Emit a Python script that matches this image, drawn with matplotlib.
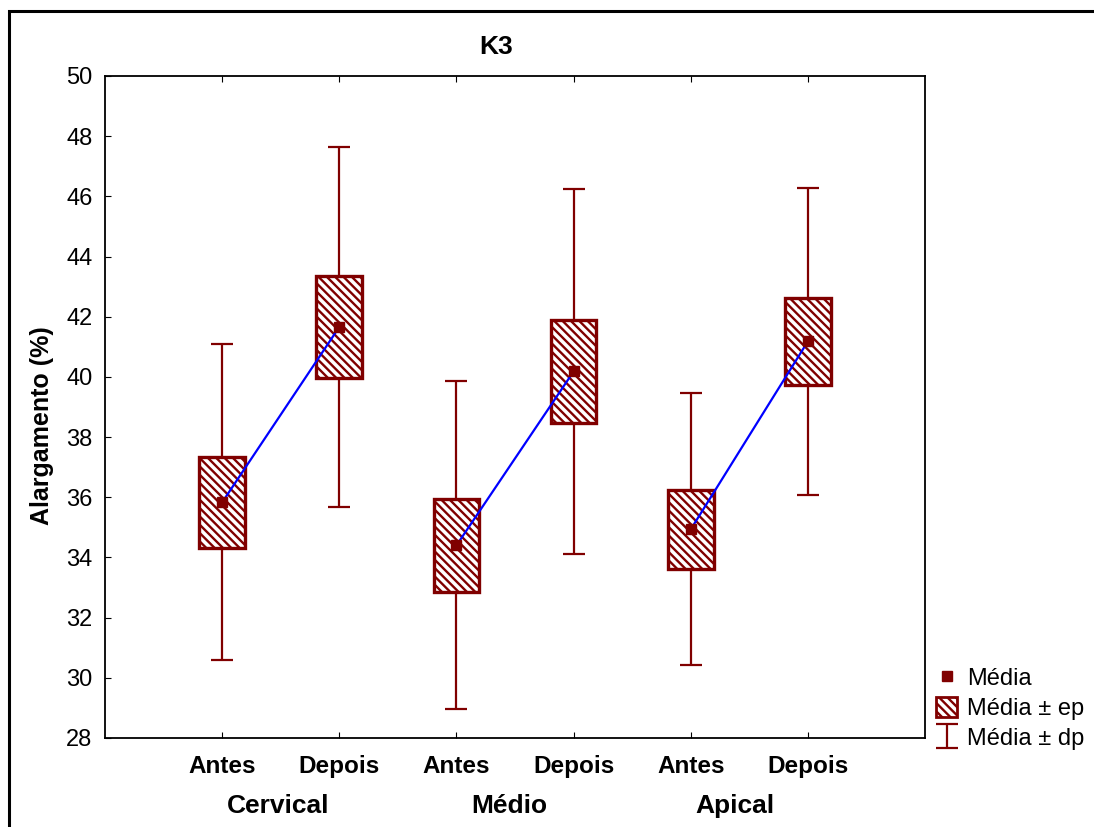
import matplotlib.pyplot as plt
from matplotlib.patches import Rectangle, Patch
from matplotlib.lines import Line2D

plt.rcParams['font.family'] = ['Liberation Sans', 'DejaVu Sans']
plt.rcParams['hatch.linewidth'] = 1.7

grupos = ['Cervical', 'Médio', 'Apical']
momentos = ['Antes', 'Depois', 'Antes', 'Depois', 'Antes', 'Depois']
media = [35.83, 41.66, 34.40, 40.18, 34.93, 41.18]
ep = [1.51, 1.70, 1.55, 1.72, 1.30, 1.45]
dp = [5.25, 5.97, 5.45, 6.05, 4.52, 5.10]

cor = '#800000'
x = list(range(1, len(media) + 1))

fig = plt.figure(figsize=(10.94, 8.27), dpi=100)
ax = fig.add_axes([105/1094, 1-738/827, 820/1094, 662/827])

# whiskers (media +- dp)
eb = ax.errorbar(x, media, yerr=dp, fmt='none', ecolor=cor, elinewidth=1.6,
                 capsize=8, capthick=1.6, zorder=1)
# boxes (media +- ep)
bottoms = [m - e for m, e in zip(media, ep)]
heights = [2*e for e in ep]
ax.bar(x, heights, bottom=bottoms, width=0.39, color='white', edgecolor=cor,
       hatch='\\\\\\\\', linewidth=2.4, zorder=2)
# connecting lines
for i in range(0, len(media), 2):
    ax.plot(x[i:i+2], media[i:i+2], color='blue', lw=1.6, zorder=3)
ax.plot(x, media, 's', color=cor, ms=7.5, ls='none', zorder=4)

ax.set_xlim(0, 7)
ax.set_ylim(28, 50)
ax.set_yticks(range(28, 51, 2))
ax.set_xticks(x)
ax.set_xticklabels(momentos, fontsize=17.5, fontweight='bold')
ax.tick_params(axis='y', direction='in', length=4, labelsize=17, pad=9)
ax.tick_params(axis='x', direction='in', length=4, pad=12, top=True)
for s in ax.spines.values():
    s.set_linewidth(1.3)

grp_x = [1.48, 3.45, 5.38]
for gx, g in zip(grp_x, grupos):
    ax.text(gx, -0.102, g, transform=ax.get_xaxis_transform(), ha='center',
            va='center', fontsize=19, fontweight='bold')

fig.text(496/1094, 1-47/827, 'K3', ha='center', va='center', fontsize=19,
         fontweight='bold')
fig.text(42/1094, 1-426/827, 'Alargamento (%)', ha='center', va='center',
         rotation=90, fontsize=18, fontweight='bold')

# outer frame
fig.patches.append(Rectangle((9/1094, -0.1), 1.2, 1-11/827+0.1,
                             transform=fig.transFigure, fill=False,
                             edgecolor='black', lw=2.2))

handles = [Line2D([], [], marker='s', color=cor, ls='none', ms=7.5),
           Patch(facecolor='white', edgecolor=cor, hatch='\\\\\\\\', lw=2.0),
           eb]
labels = ['Média', 'Média ± ep', 'Média ± dp']
fig.legend(handles, labels, loc='upper left',
           bbox_to_anchor=(936/1094, 1-667/827), frameon=False,
           fontsize=17, borderpad=0, borderaxespad=0, handlelength=0.9,
           handleheight=0.9, handletextpad=0.4, labelspacing=0.3)

fig.savefig('out.png', dpi=100)
